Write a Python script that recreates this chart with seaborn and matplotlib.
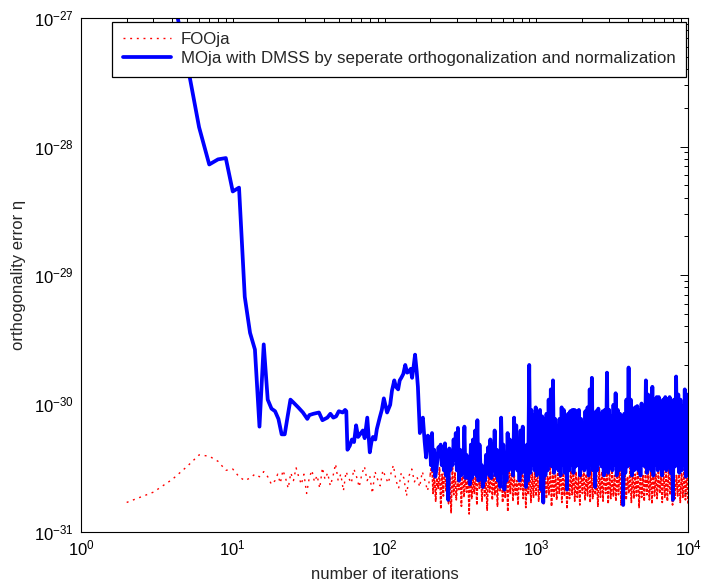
import numpy as np
import pandas as pd
import matplotlib
matplotlib.use("Agg")
import matplotlib.pyplot as plt
from matplotlib.ticker import NullFormatter, FixedLocator
import seaborn as sns

# ---------------- data (log10 of orthogonality error) ----------------
# FOOja (red dotted)
red_early_iter = [2, 3, 4, 5, 6, 7, 8, 9, 10, 11, 12, 13, 14, 15, 16, 17, 18]
red_early_log = [-30.77, -30.69, -30.59, -30.49, -30.40, -30.41, -30.45, -30.52, -30.51,
                 -30.57, -30.60, -30.58, -30.55, -30.57, -30.53, -30.57, -30.63]
red_mid_log = [-30.60, -30.55, -30.62, -30.52, -30.58, -30.66, -30.54, -30.60, -30.50, -30.57,
               -30.63, -30.55, -30.70, -30.58, -30.52, -30.61, -30.56, -30.66, -30.50, -30.59,
               -30.54, -30.64, -30.57, -30.47, -30.60, -30.55, -30.68, -30.53, -30.58, -30.62,
               -30.51, -30.57, -30.65, -30.55, -30.49, -30.60, -30.56, -30.70, -30.53, -30.59,
               -30.64, -30.52, -30.57, -30.62, -30.55, -30.48, -30.60, -30.66, -30.54, -30.58,
               -30.72, -30.56, -30.51, -30.61, -30.57, -30.65, -30.53, -30.60, -30.68, -30.56]
red_dense_top = [-30.47, -30.53, -30.58, -30.50, -30.55, -30.45, -30.52, -30.57, -30.49, -30.54,
                 -30.60, -30.51, -30.46, -30.56, -30.53, -30.49, -30.58, -30.52, -30.47, -30.55,
                 -30.50, -30.57, -30.53, -30.48, -30.56, -30.51, -30.45, -30.54, -30.58, -30.50,
                 -30.52, -30.47, -30.55, -30.60, -30.49, -30.53, -30.46, -30.56, -30.51, -30.54,
                 -30.52, -30.48, -30.55, -30.50, -30.53, -30.57, -30.49, -30.52, -30.55, -30.50,
                 -30.46, -30.54, -30.51, -30.56, -30.52, -30.49, -30.53, -30.57, -30.50, -30.52,
                 -30.55, -30.48, -30.53, -30.51, -30.56, -30.50, -30.53, -30.47, -30.54, -30.52,
                 -30.50, -30.56, -30.52, -30.49, -30.54, -30.51, -30.57, -30.50, -30.53, -30.55,
                 -30.49, -30.52, -30.56, -30.50, -30.54, -30.51, -30.48, -30.55, -30.52, -30.57,
                 -30.50, -30.53, -30.49, -30.55, -30.52, -30.56, -30.50, -30.54, -30.51, -30.53]
red_dense_bot = [-30.70, -30.76, -30.66, -30.82, -30.72, -30.68, -30.78, -30.85, -30.71, -30.75,
                 -30.67, -30.80, -30.73, -30.69, -30.86, -30.74, -30.70, -30.79, -30.66, -30.76,
                 -30.72, -30.83, -30.69, -30.75, -30.71, -30.80, -30.68, -30.77, -30.73, -30.84,
                 -30.70, -30.76, -30.72, -30.79, -30.67, -30.74, -30.81, -30.71, -30.77, -30.73,
                 -30.72, -30.76, -30.70, -30.78, -30.74, -30.71, -30.80, -30.73, -30.75, -30.70,
                 -30.77, -30.72, -30.82, -30.74, -30.71, -30.76, -30.73, -30.79, -30.70, -30.75,
                 -30.72, -30.77, -30.74, -30.71, -30.80, -30.73, -30.76, -30.70, -30.78, -30.74,
                 -30.72, -30.76, -30.71, -30.79, -30.73, -30.75, -30.70, -30.77, -30.74, -30.72,
                 -30.81, -30.73, -30.76, -30.71, -30.75, -30.78, -30.72, -30.74, -30.70, -30.77,
                 -30.73, -30.76, -30.71, -30.79, -30.74, -30.72, -30.77, -30.73, -30.75, -30.78]

# MOja with DMSS (blue solid)
blue_early_iter = list(range(1, 18))
blue_early_log = [-26.0, -26.3, -26.55, -26.8, -27.35, -27.85, -28.14, -28.10, -28.09,
                  -28.35, -28.32, -29.17, -29.45, -29.58, -30.18, -29.54, -29.97]
blue_mid_iter = [18, 19, 20, 21, 22, 23, 24, 25, 27, 29, 31, 32, 34, 37, 39, 42, 44, 46, 48,
                 50, 53, 55, 56, 57, 59, 61, 63, 65, 67, 69, 72, 74, 77, 80, 82, 84, 87, 89,
                 93, 96, 99, 104, 109, 112, 116, 119, 123, 126, 129, 133, 137, 141, 145, 149,
                 152, 156, 159, 163, 166, 171, 175, 179, 184, 188, 193]
blue_mid_log = [-30.04, -30.06, -30.12, -30.24, -30.24, -30.10, -29.97, -29.99, -30.03, -30.07,
                -30.12, -30.09, -30.08, -30.07, -30.13, -30.11, -30.08, -30.11, -30.10,
                -30.06, -30.07, -30.05, -30.06, -30.36, -30.33, -30.28, -30.30, -30.17, -30.26,
                -30.24, -30.21, -30.27, -30.11, -30.38, -30.30, -30.26, -30.28, -30.20,
                -30.11, -30.05, -29.96, -30.07, -30.01, -29.90, -29.82, -29.87, -29.89, -29.82,
                -29.80, -29.77, -29.70, -29.76, -29.75, -29.73, -29.80, -29.70, -29.62, -29.75,
                -29.87, -30.23, -30.13, -30.11, -30.30, -30.42, -30.25]
blue_dense_top = [-30.28, -30.23, -30.36, -30.52, -30.34, -30.32, -30.39, -30.31, -30.40, -30.35,
                  -30.42, -30.28, -30.23, -30.19, -30.36, -30.52, -30.18, -30.40, -30.56, -30.32,
                  -30.28, -30.21, -30.13, -30.32, -30.48, -30.52, -30.40, -30.34, -30.28, -30.32,
                  -30.21, -30.36, -30.52, -30.11, -30.32, -30.44, -30.23, -30.28, -30.36, -30.11,
                  -30.17, -30.32, -30.21, -30.18, -30.36, -30.32, -29.70, -30.05, -30.09, -30.03,
                  -30.13, -30.05, -30.10, -30.12, -30.08, -29.97, -29.89, -29.82, -30.12, -30.18,
                  -30.12, -30.03, -30.05, -30.10, -30.08, -30.06, -30.05, -30.05, -30.06, -30.05,
                  -30.12, -30.15, -30.06, -30.03, -29.89, -29.80, -30.08, -30.06, -30.04, -30.08,
                  -30.06, -30.05, -29.76, -30.05, -30.10, -30.01, -29.92, -30.05, -30.08, -30.12,
                  -30.08, -29.97, -29.72, -29.97, -30.06, -30.03, -30.02, -30.05, -30.00, -30.03,
                  -29.82, -29.93, -29.97, -29.87, -29.97, -29.95, -29.95, -30.01, -29.97, -29.95,
                  -29.97, -29.95, -30.06, -29.97, -29.79, -29.93, -29.97, -30.03, -29.89, -29.93]
blue_dense_bot = [-30.48, -30.52, -30.57, -30.44, -30.40, -30.48, -30.52, -30.56, -30.75, -30.52,
                  -30.48, -30.44, -30.52, -30.60, -30.56, -30.48, -30.58, -30.52, -30.63, -30.58,
                  -30.52, -30.56, -30.60, -30.52, -30.65, -30.60, -30.52, -30.56, -30.58, -30.52,
                  -30.56, -30.60, -30.65, -30.52, -30.67, -30.60, -30.52, -30.49, -30.56, -30.50,
                  -30.52, -30.60, -30.54, -30.52, -30.65, -30.60,
                  -30.54, -30.48, -30.52, -30.56, -30.48, -30.67, -30.77, -30.56, -30.52, -30.48,
                  -30.49, -30.54, -30.48, -30.52, -30.56, -30.48, -30.54, -30.67, -30.52, -30.48,
                  -30.54, -30.49, -30.48, -30.56, -30.48, -30.52, -30.49, -30.56, -30.48, -30.52,
                  -30.65, -30.52, -30.46, -30.49, -30.56, -30.48, -30.54, -30.49, -30.52, -30.48,
                  -30.56, -30.52, -30.48, -30.79, -30.54, -30.49, -30.48, -30.56, -30.52, -30.46,
                  -30.52, -30.56, -30.48, -30.49, -30.54, -30.48, -30.52, -30.56, -30.48, -30.52,
                  -30.49, -30.56, -30.48, -30.52, -30.49, -30.54, -30.75, -30.49, -30.48, -30.54,
                  -30.52, -30.48, -30.57, -30.52]

legend_labels = ["FOOja", "MOja with DMSS by seperate orthogonalization and normalization"]
x_label = "number of iterations"
y_label = "orthogonality error η"
x_major = [1e0, 1e1, 1e2, 1e3, 1e4]
y_major = [1e-31, 1e-30, 1e-29, 1e-28, 1e-27]


def interleave(top, bot):
    k = min(len(top), len(bot))
    return np.column_stack([top[:k], bot[:k]]).ravel()


red_dense = interleave(red_dense_top, red_dense_bot)
blue_dense = interleave(blue_dense_top, blue_dense_bot)

red_sparse_iter = np.concatenate([red_early_iter, np.geomspace(19, 200, len(red_mid_log))])
red_sparse_log = np.concatenate([red_early_log, red_mid_log])
red_dense_iter = np.concatenate([[red_sparse_iter[-1]],
                                 np.geomspace(205, 10000, len(red_dense))])
red_dense_log = np.concatenate([[red_sparse_log[-1]], red_dense])

blue_iter = np.concatenate([blue_early_iter, blue_mid_iter,
                            np.geomspace(199, 10000, len(blue_dense))])
blue_log = np.concatenate([blue_early_log, blue_mid_log, blue_dense])

df_red_a = pd.DataFrame({"iteration": red_sparse_iter, "error": 10.0 ** red_sparse_log})
df_red_b = pd.DataFrame({"iteration": red_dense_iter, "error": 10.0 ** red_dense_log})
df_blue = pd.DataFrame({"iteration": blue_iter, "error": 10.0 ** blue_log})

# ---------------- styling ----------------
sns.set_style("white")
plt.rcParams["font.family"] = ["Liberation Sans", "DejaVu Sans"]
plt.rcParams["mathtext.fontset"] = "custom"
plt.rcParams["mathtext.rm"] = "Liberation Sans"
plt.rcParams["mathtext.it"] = "Liberation Sans:italic"
plt.rcParams["mathtext.bf"] = "Liberation Sans:bold"
plt.rcParams["axes.linewidth"] = 0.8
plt.rcParams["axes.edgecolor"] = "black"
plt.rcParams["path.simplify"] = False

fig = plt.figure(figsize=(7.02, 5.88), dpi=100)
ax = fig.add_axes([81 / 702, 1 - 532 / 588, (688 - 81) / 702, (532 - 18) / 588])

sns.lineplot(data=df_red_a, x="iteration", y="error", ax=ax, color=(1, 0, 0),
             linewidth=1.0, estimator=None, sort=False, label=legend_labels[0])
ax.lines[-1].set_dashes((1.4, 3.4))
sns.lineplot(data=df_red_b, x="iteration", y="error", ax=ax, color=(1, 0, 0),
             linewidth=1.2, estimator=None, sort=False)
ax.lines[-1].set_dashes((1.8, 0.9))
sns.lineplot(data=df_blue, x="iteration", y="error", ax=ax, color=(0, 0, 1),
             linewidth=2.7, estimator=None, sort=False, label=legend_labels[1])
ax.lines[-1].set_solid_joinstyle("round")
ax.lines[-1].set_solid_capstyle("round")

ax.set_xscale("log")
ax.set_yscale("log")
ax.set_xlim(1, 1e4)
ax.set_ylim(1e-31, 1e-27)
ax.xaxis.set_major_locator(FixedLocator(x_major))
ax.yaxis.set_major_locator(FixedLocator(y_major))
ax.xaxis.set_minor_locator(FixedLocator([k * d for d in x_major[:-1] for k in range(2, 10)]))
ax.yaxis.set_minor_locator(FixedLocator([k * d for d in y_major[:-1] for k in range(2, 10)]))
ax.xaxis.set_minor_formatter(NullFormatter())
ax.yaxis.set_minor_formatter(NullFormatter())

ax.tick_params(which="both", direction="in", top=True, right=True,
               colors="black", labelsize=12, width=0.7)
ax.tick_params(which="major", length=5.5, pad=5)
ax.tick_params(which="minor", length=3)
for s in ax.spines.values():
    s.set_visible(True)
    s.set_color("black")

ax.set_xlabel(x_label, fontsize=12, labelpad=6)
ax.set_ylabel(y_label, fontsize=12, labelpad=6)

leg = ax.legend(loc="upper right", bbox_to_anchor=(0.9967, 0.9922), borderaxespad=0,
                fancybox=False, framealpha=1, edgecolor="black", fontsize=12.2,
                handlelength=2.85, handletextpad=0.6, borderpad=0.6, labelspacing=0.25)
leg.get_frame().set_linewidth(0.9)

fig.savefig("out.png", dpi=100)
